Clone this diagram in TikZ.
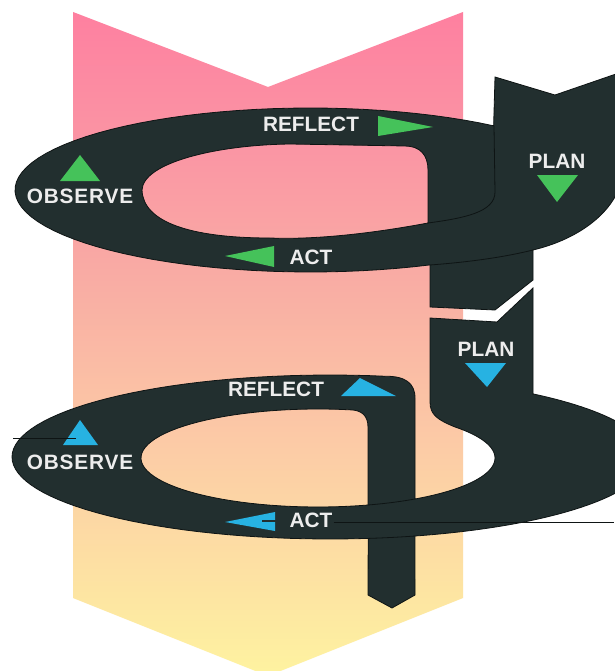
\documentclass[tikz,border=0pt]{standalone}
\usepackage{fontspec}
\newfontfamily\lblfont{Liberation Sans}
\newfontfamily\lblwide{Liberation Sans}[LetterSpace=4]
\definecolor{band}{HTML}{222F2F}
\definecolor{edge}{HTML}{0E1414}
\definecolor{grn}{HTML}{45C25A}
\definecolor{blu}{HTML}{27B2E2}
\definecolor{lbl}{HTML}{EDEDED}
\definecolor{sA}{HTML}{FEF3A0}
\definecolor{sB}{HTML}{FDE6A2}
\definecolor{sC}{HTML}{FCCCA6}
\definecolor{sD}{HTML}{F9B0A4}
\definecolor{sE}{HTML}{FA96A4}
\definecolor{sF}{HTML}{FE80A0}
% axis shadings map the filled box onto 25bp..75bp
\pgfdeclareverticalshading{chevshade}{100bp}{color(0bp)=(sA); color(25bp)=(sA); color(30.7bp)=(sB); color(42bp)=(sC); color(53.3bp)=(sD); color(64.5bp)=(sE); color(75bp)=(sF); color(100bp)=(sF)}
\tikzset{
  ring/.style={fill=band, draw=edge, line width=0.8, even odd rule},
  seam/.style={draw=edge, line width=0.8},
  word/.style={text=lbl, font=\lblfont\bfseries\fontsize{20.8}{24}\selectfont, inner sep=0pt},
}
\begin{document}
\begin{tikzpicture}[x=1pt,y=-1pt]
\useasboundingbox (0,0) rectangle (614,671);
\fill[white] (0,0) rectangle (614,671);

% downward chevron behind the cycles
\shade[shading=chevshade] (73,12) -- (268,87) -- (463,12) -- (463,598) -- (268,676) -- (73,598) -- cycle;

% first cycle: plan column, loop and descending strip
\path[ring]
  (495,77) -- (555,95) -- (616,74) -- (616,195)
  .. controls (604,218) and (575,240) .. (533,250)
  -- (533,280) -- (495,310) -- (430,307) -- (430,265)
  -- plot[domain=66:308.5, samples=70] ({310+295*cos(\x)},{190+82*sin(\x)})
  -- cycle
  (142,190) .. controls (143,163) and (215,145) .. (290,144) -- (405,146)
  .. controls (420,146) and (428,155) .. (428,170) -- (428,223)
  .. controls (380,232) and (320,240) .. (270,238)
  .. controls (190,238) and (143,222) .. (142,190) -- cycle;
\draw[seam] (494,126) -- (495,192) .. controls (495,212) and (465,218) .. (428,223);
\draw[seam] (430,265) .. controls (470,262) and (505,257) .. (533,250);

% second cycle: plan column, loop and pointed tail
\path[ring]
  (430,318) -- (497,322) -- (533,288) -- (533,394)
  -- plot[domain=-50.3:74.5, samples=70] ({330+318*cos(\x)},{457+82*sin(\x)})
  -- (415,595) -- (392,608) -- (368,595)
  -- plot[domain=83.1:280, samples=70] ({330+318*cos(\x)},{457+82*sin(\x)})
  .. controls (405,376) and (415,383) .. (415,398)
  -- (415,499)
  -- plot[domain=-56.8:39.3, samples=40] ({318+177*cos(-\x)},{458+49*sin(-\x)})
  .. controls (438,420) and (430,415) .. (430,402) -- cycle
  (368,505)
  -- plot[domain=73.6:280.4, samples=60] ({318+177*cos(\x)},{458+49*sin(\x)})
  .. controls (362,410) and (368,416) .. (368,427) -- cycle;
\draw[seam] plot[domain=56.8:73.6, samples=10] ({318+177*cos(\x)},{458+49*sin(\x)});
\draw[seam] plot[domain=74.5:83.1, samples=10] ({330+318*cos(\x)},{457+82*sin(\x)});

% direction markers, first cycle
\fill[grn] (378,116) -- (433,127) -- (378,136) -- cycle;
\fill[grn] (537,175) -- (578,175) -- (557,202) -- cycle;
\fill[grn] (60,181) -- (100,181) -- (80,155) -- cycle;
\fill[grn] (225,256) -- (274,246) -- (274,267) -- cycle;

% direction markers, second cycle
\fill[blu] (465,363) -- (506,363) -- (487,387) -- cycle;
\fill[blu] (341,396) -- (360,378) -- (396,396) -- cycle;
\fill[blu] (63,445) -- (98,445) -- (80,420) -- cycle;
\fill[blu] (225,522) -- (275,512) -- (275,531) -- cycle;

% labels
\node[word] (reflectA) at (311,124) {REFLECT};
\node[word] (planA) at (557,161) {PLAN};
\node[word, font=\lblwide\bfseries\fontsize{20.8}{24}\selectfont] (observeA) at (80,196) {OBSERVE};
\node[word] (actA) at (311,257) {ACT};
\node[word] (planB) at (486,349) {PLAN};
\node[word] (reflectB) at (276,389) {REFLECT};
\node[word, font=\lblwide\bfseries\fontsize{20.8}{24}\selectfont] (observeB) at (80,462) {OBSERVE};
\node[word] (actB) at (311,520) {ACT};

% thin leader lines
\coordinate (obsIn) at (13,438);
\coordinate (obsTip) at (76,438);
\coordinate (actTip) at (262,521);
\coordinate (actTail) at (276,521);
\coordinate (actOut) at (614,522);
\draw[edge, line width=0.8] (obsIn) -- (obsTip);
\draw[band, line width=1.2] (actTip) -- (actTail);
\draw[edge, line width=0.8] (actB.east) ++(1,2) -- (actOut);
\end{tikzpicture}
\end{document}
